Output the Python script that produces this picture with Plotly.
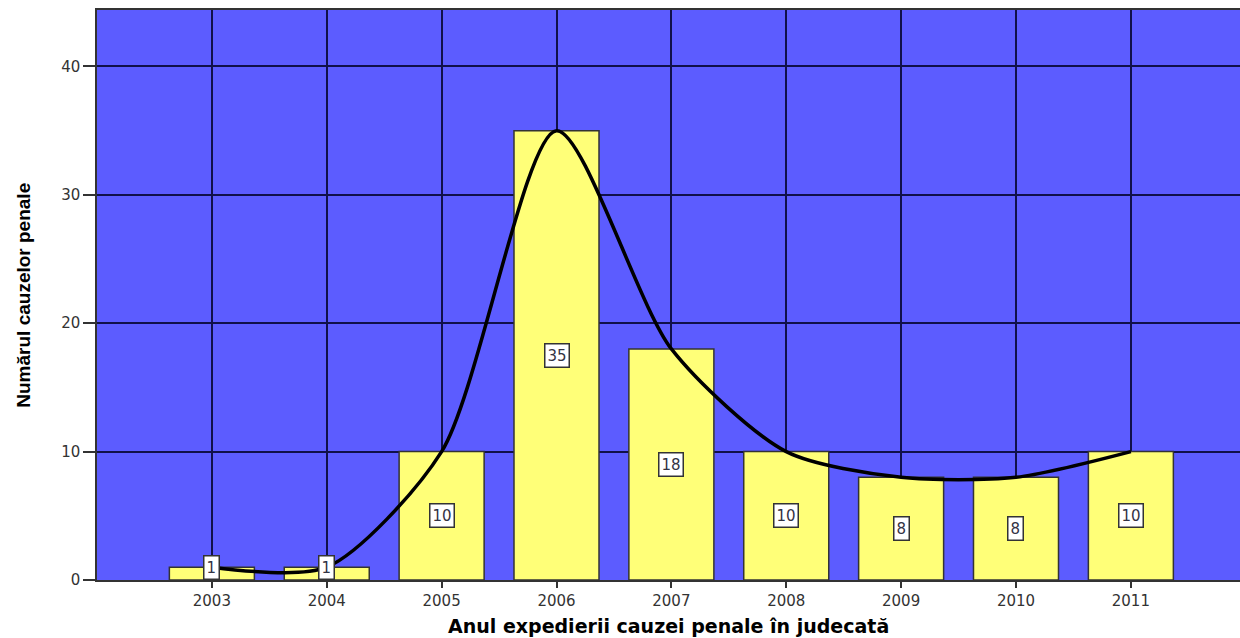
import plotly.graph_objects as go

years = [2003, 2004, 2005, 2006, 2007, 2008, 2009, 2010, 2011]
counts = [1, 1, 10, 35, 18, 10, 8, 8, 10]
y_ticks = [0, 10, 20, 30, 40]

x_title = "Anul expedierii cauzei penale în judecată"
y_title = "Numărul cauzelor penale"

fig = go.Figure()
fig.add_trace(go.Bar(
    x=years, y=counts, width=0.74,
    marker=dict(color="#FFFF78", line=dict(color="#333333", width=1.5)),
    hoverinfo="x+y",
))
fig.add_trace(go.Scatter(
    x=years, y=counts, mode="lines",
    line=dict(color="black", width=3.5, shape="spline", smoothing=0.75),
    hoverinfo="skip",
))

for x, v in zip(years, counts):
    fig.add_annotation(
        x=x, y=max(v / 2, 1.0), text=str(v), showarrow=False,
        font=dict(family="DejaVu Sans", size=15, color="#333344"),
        bgcolor="white", bordercolor="#333333", borderwidth=1.5, borderpad=2,
    )

fig.add_annotation(
    xref="paper", yref="paper", x=0.5, y=-0.08, yanchor="middle", xanchor="center",
    text=x_title, showarrow=False,
    font=dict(family="DejaVu Sans", size=19, color="black", weight="bold"),
)
fig.add_annotation(
    xref="paper", yref="paper", x=-0.065, y=0.5, xanchor="center", yanchor="middle",
    text=y_title, showarrow=False, textangle=-90,
    font=dict(family="Liberation Sans Narrow, Arial Narrow, sans-serif", size=19, color="black", weight="bold"),
)

fig.update_layout(
    width=1240, height=638,
    margin=dict(l=97, r=0, t=10, b=58, autoexpand=False),
    paper_bgcolor="white", plot_bgcolor="#5C5CFF",
    showlegend=False, bargap=0.26,
    font=dict(family="DejaVu Sans", color="#333333"),
)
fig.update_xaxes(
    range=[2002, 2011.95], tickmode="array", tickvals=years,
    ticktext=[str(y) for y in years], automargin=False,
    ticks="outside", ticklen=6, tickcolor="#333333", tickwidth=1.5,
    tickfont=dict(family="DejaVu Sans", size=15, color="#333333"),
    showgrid=True, gridcolor="#10104A", gridwidth=1.5,
    showline=True, linecolor="#333333", linewidth=1.5, mirror=True,
    zeroline=False,
)
fig.update_yaxes(
    range=[0, 44.4], tickmode="array", tickvals=y_ticks, automargin=False,
    ticks="outside", ticklen=12, tickcolor="#333333", tickwidth=1.5,
    tickfont=dict(family="DejaVu Sans", size=15, color="#333333"),
    showgrid=True, gridcolor="#10104A", gridwidth=1.5,
    showline=True, linecolor="#333333", linewidth=1.5, mirror=True,
    zeroline=False,
)

fig.write_html(
    "out.html",
    config={"displayModeBar": False},
    post_script="document.body.style.margin='0';document.body.style.overflow='hidden';",
)
